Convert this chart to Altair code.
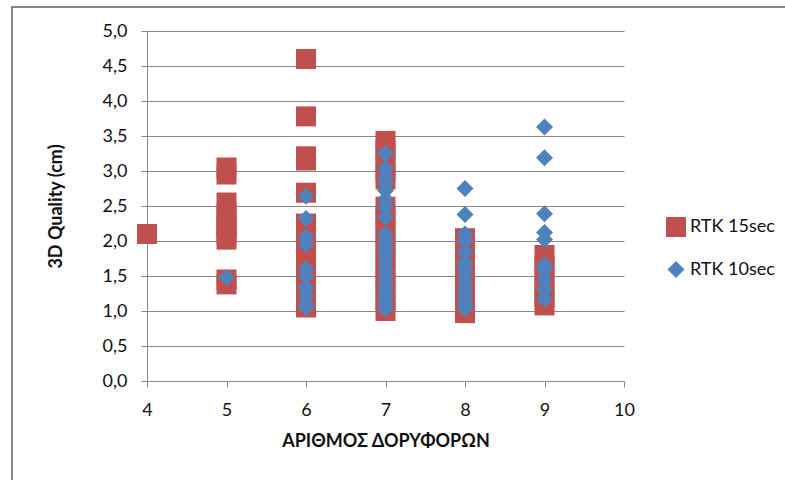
import altair as alt
import pandas as pd

# RTK 15sec: satellite count and 3D quality (cm)
sats_15 = [4] + [5] * 10 + [6] * 18 + [7] * 16 + [8] * 8 + [9] * 6
vals_15 = [
    2.1,
    3.05, 2.95, 2.55, 2.4, 2.3, 2.2, 2.1, 2.02, 1.45, 1.38,
    4.6, 3.78, 3.21, 3.15, 2.69, 2.25, 2.12, 2.0, 1.9, 1.8, 1.7, 1.6, 1.5, 1.4, 1.3, 1.2, 1.1, 1.05,
    3.43, 3.3, 3.15, 3.0, 2.88, 2.49, 2.35, 2.2, 2.05, 1.9, 1.75, 1.6, 1.45, 1.3, 1.15, 1.0,
    2.04, 1.9, 1.75, 1.6, 1.45, 1.3, 1.15, 0.97,
    1.8, 1.65, 1.5, 1.35, 1.2, 1.08,
]

# RTK 10sec: satellite count and 3D quality (cm)
sats_10 = [5] + [6] * 10 + [7] * 20 + [8] * 13 + [9] * 10
vals_10 = [
    1.48,
    2.64, 2.32, 2.06, 1.95, 1.6, 1.5, 1.34, 1.22, 1.1, 1.05,
    3.25, 3.04, 2.92, 2.82, 2.72, 2.6, 2.48, 2.34, 2.1, 2.0, 1.9, 1.8, 1.7, 1.6, 1.5, 1.4, 1.3, 1.2, 1.1, 1.03,
    2.75, 2.38, 2.1, 2.0, 1.85, 1.7, 1.6, 1.5, 1.4, 1.3, 1.2, 1.1, 1.04,
    3.63, 3.19, 2.39, 2.12, 2.02, 1.66, 1.57, 1.44, 1.3, 1.17,
]

series_names = ["RTK 15sec", "RTK 10sec"]
series_colors = ["#C0504D", "#4F81BD"]
series_shapes = ["square", "diamond"]
series_sizes = [400, 290]

df = pd.concat([
    pd.DataFrame({"sats": sats_15, "quality": vals_15, "series": series_names[0]}),
    pd.DataFrame({"sats": sats_10, "quality": vals_10, "series": series_names[1]}),
], ignore_index=True)

FONT = "Lato"
GRAY = "#878787"

points = alt.Chart(df).mark_point(filled=True, opacity=1).encode(
    x=alt.X(
        "sats:Q",
        scale=alt.Scale(domain=[4, 10], nice=False, zero=False),
        axis=alt.Axis(
            title="ΑΡΙΘΜΟΣ ΔΟΡΥΦΟΡΩΝ",
            values=[4, 5, 6, 7, 8, 9, 10],
            format="d",
            grid=False,
            labelFlush=False,
            domainColor=GRAY,
            tickColor=GRAY,
            tickSize=6,
            labelFontSize=18,
            labelPadding=14,
            titlePadding=13,
        ),
    ),
    y=alt.Y(
        "quality:Q",
        scale=alt.Scale(domain=[0, 5], nice=False),
        axis=alt.Axis(
            title="3D Quality (cm)",
            values=[0, 0.5, 1, 1.5, 2, 2.5, 3, 3.5, 4, 4.5, 5],
            labelExpr="replace(format(datum.value, '.1f'), '.', ',')",
            grid=True,
            labelFlush=False,
            gridColor=GRAY,
            domainColor=GRAY,
            tickColor=GRAY,
            tickSize=6,
            labelFontSize=18,
            labelPadding=14,
            titlePadding=37,
        ),
    ),
    color=alt.Color(
        "series:N",
        scale=alt.Scale(domain=series_names, range=series_colors),
        legend=alt.Legend(
            title=None,
            orient="none",
            legendX=518,
            legendY=185,
            symbolSize=200,
            labelFontSize=18,
            rowPadding=23,
            labelOffset=3,
        ),
    ),
    shape=alt.Shape(
        "series:N",
        scale=alt.Scale(domain=series_names, range=series_shapes),
    ),
    size=alt.Size(
        "series:N",
        scale=alt.Scale(domain=series_names, range=series_sizes),
        legend=None,
    ),
    order=alt.Order("series_order:Q"),
).transform_calculate(
    series_order="datum.series === 'RTK 15sec' ? 0 : 1"
)

# outer chart border
frame = alt.Chart(pd.DataFrame({"k": [0]})).mark_rect(
    fill=None, stroke=GRAY, strokeWidth=2
).encode(
    x=alt.value(-135), x2=alt.value(800),
    y=alt.value(-24), y2=alt.value(600),
)

chart = alt.layer(frame, points).properties(
    width=477,
    height=350,
    padding={"left": 147, "top": 31, "right": 161, "bottom": 99},
    autosize=alt.AutoSizeParams(type="none"),
    background="white",
).configure_view(
    stroke=None
).configure_axis(
    labelFont=FONT,
    titleFont=FONT,
    labelColor="#111111",
    titleColor="#111111",
    titleFontSize=18,
    titleFontWeight="bold",
).configure_legend(
    labelFont=FONT,
    labelColor="#111111",
)

chart.save("out.html", embed_options={"renderer": "svg", "actions": False})
